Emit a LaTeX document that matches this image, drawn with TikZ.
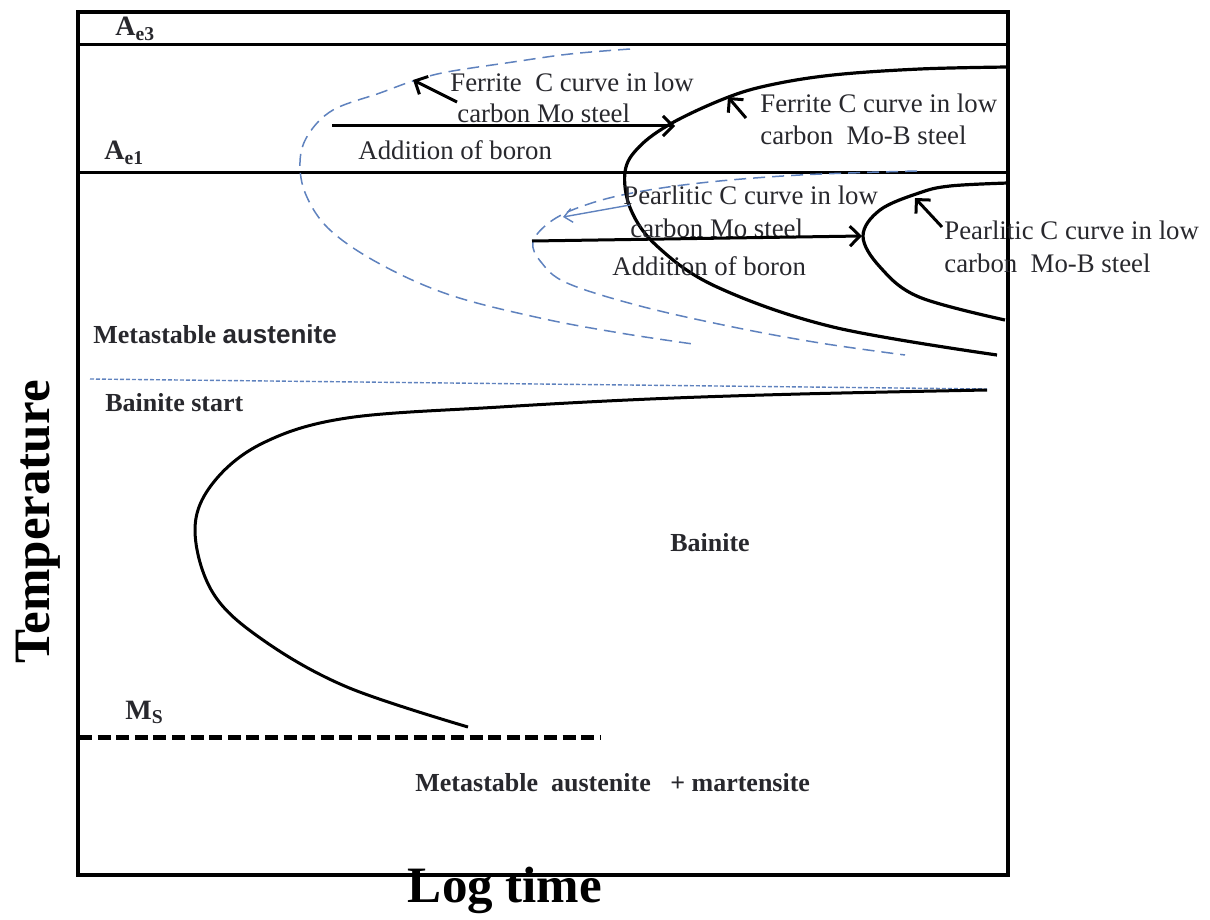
\documentclass[tikz,border=0pt]{standalone}
\usepackage{fontspec}
\setmainfont{Liberation Serif}
\newfontfamily\arialfont{Liberation Sans}
\usetikzlibrary{arrows.meta}
\definecolor{txt}{RGB}{40,40,45}
\definecolor{dblue}{RGB}{95,130,190}
\tikzset{
  lbl/.style={inner sep=0pt, text=txt, font=\fontsize{13.4}{15.5}\selectfont, anchor=west},
  blbl/.style={inner sep=0pt, text=txt, font=\bfseries\fontsize{13}{15}\selectfont, anchor=west},
  axlbl/.style={inner sep=0pt, text=black, font=\bfseries\fontsize{25.5}{28}\selectfont},
  frameline/.style={line width=2.2pt},
  tline/.style={line width=1.5pt},
  ccurve/.style={line width=1.6pt},
  bluecurve/.style={draw=dblue, line width=0.75pt, dash pattern=on 6pt off 3.5pt},
  barrow/.style={line width=1.5pt, -{Straight Barb[length=5pt,width=10pt,line width=1.5pt]}},
  bluearrow/.style={draw=dblue, line width=0.7pt, -{Straight Barb[length=4pt,width=7pt]}}
}
\begin{document}
\begin{tikzpicture}[x=0.5pt,y=-0.5pt]
\useasboundingbox (0,0) rectangle (1210,920);
% frame
\draw[frameline] (78,12) rectangle (1008,875);
\draw[tline] (78,45) -- (1008,45);
\draw[tline] (78,172) -- (1008,172);
% labels Ae
\node[blbl, anchor=base west, font=\bfseries\fontsize{14}{16}\selectfont] (ae3) at (115,36) {A\textsubscript{e3}};
\node[blbl, anchor=base west, font=\bfseries\fontsize{14}{16}\selectfont] (ae1) at (104,160) {A\textsubscript{e1}};
% blue dashed C curves (Mo steel)
\draw[bluecurve] plot[smooth, tension=0.6] coordinates {(630,49) (570,54) (513,62) (447,72) (413,81) (380,93) (333,110) (308,135) (300,162) (306,195) (330,230) (380,264) (450,295) (540,318) (620,333) (693,344)};
\draw[bluecurve] plot[smooth, tension=0.6] coordinates {(917,171) (800,175) (700,183) (627,194) (580,207) (550,222) (533,242) (541,262) (567,283) (640,306) (733,327) (820,343) (905,355)};
% black C curves (Mo-B steel)
\draw[ccurve] plot[smooth, tension=0.6] coordinates {(1008,67) (920,69) (833,75) (770,85) (726,98) (672,123) (639,147) (625,172) (631,210) (658,247) (717,287) (833,327) (997,355)};
\draw[ccurve] plot[smooth, tension=0.6] coordinates {(1008,183) (950,186) (919,193) (880,210) (863,236) (880,267) (919,297) (1005,320)};
% bainite
\draw[dblue, line width=0.7pt, dash pattern=on 2pt off 1pt] (90,379) -- (987,389);
\draw[line width=1.5pt] plot[smooth, tension=0.6] coordinates {(987,390) (800,394) (650,399) (500,407) (347,418) (263,443) (213,483) (195,530) (213,593) (263,640) (347,687) (468,727)};
% Ms line
\draw[line width=2.5pt, dash pattern=on 6.5pt off 2.8pt] (79,737) -- (600,737);
% text labels
\node[lbl] (fmo1) at (450,82) {Ferrite\ \ C curve in low};
\node[lbl] (fmo2) at (457,113) {carbon Mo steel};
\node[lbl] (add1) at (358,150) {Addition of boron};
\node[lbl] (fmb1) at (760,103) {Ferrite C curve in low};
\node[lbl] (fmb2) at (760,135) {carbon\ \ Mo-B steel};
\node[lbl] (pmo1) at (623,195) {Pearlitic C curve in low};
\node[lbl] (pmo2) at (630,228) {carbon Mo steel};
\node[lbl] (add2) at (612,266) {Addition of boron};
\node[lbl] (pmb1) at (944,230) {Pearlitic C curve in low};
\node[lbl] (pmb2) at (944,263) {carbon\ \ Mo-B steel};
\node[blbl] (meta) at (93,334) {Metastable {\arialfont\bfseries austenite}};
\node[blbl] (bs) at (105,403) {Bainite start};
\node[blbl, anchor=center] (bain) at (710,543) {Bainite};
\node[blbl, anchor=base west, font=\bfseries\fontsize{14}{16}\selectfont] (ms) at (125,719) {M\textsubscript{S}};
\node[blbl] (mam) at (415,783) {Metastable\ \ austenite\ \ \ + martensite};
\node[axlbl, rotate=90] (temp) at (38,522) {Temperature};
\node[axlbl] (logt) at (505,890) {Log time};
% arrows
\coordinate (a1s) at (457,102); \coordinate (a1e) at (413,80);
\draw[barrow] (a1s) -- (a1e);
\coordinate (b1s) at (332,126); \coordinate (b1e) at (675,126);
\draw[barrow] (b1s) -- (b1e);
\coordinate (c1s) at (630,205); \coordinate (c1e) at (563,217);
\draw[bluearrow] (c1s) -- (c1e);
\coordinate (b2s) at (532,241); \coordinate (b2e) at (862,236);
\draw[barrow] (b2s) -- (b2e);
\coordinate (d1s) at (746,118); \coordinate (d1e) at (728,97);
\draw[barrow] (d1s) -- (d1e);
\coordinate (e1s) at (942,227); \coordinate (e1e) at (915,198);
\draw[barrow] (e1s) -- (e1e);
\end{tikzpicture}
\end{document}
